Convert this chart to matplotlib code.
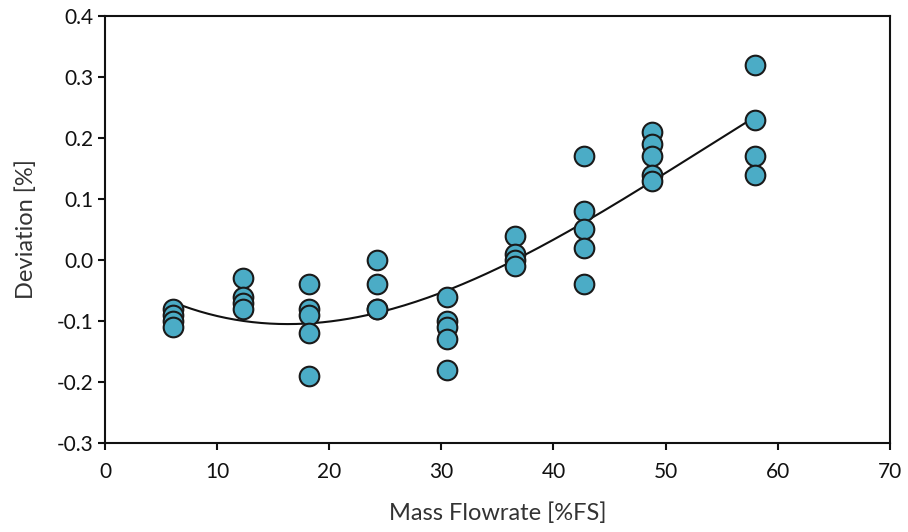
import matplotlib.pyplot as plt
import numpy as np

plt.rcParams['font.family'] = ['Lato', 'DejaVu Sans']

# measured deviations at each flowrate setpoint
flow = [6.1, 6.1, 6.1, 6.1,
        12.3, 12.3, 12.3, 12.3,
        18.2, 18.2, 18.2, 18.2, 18.2,
        24.3, 24.3, 24.3, 24.3,
        30.5, 30.5, 30.5, 30.5, 30.5,
        36.6, 36.6, 36.6, 36.6,
        42.7, 42.7, 42.7, 42.7, 42.7,
        48.8, 48.8, 48.8, 48.8, 48.8,
        58.0, 58.0, 58.0, 58.0]
deviation = [-0.08, -0.09, -0.10, -0.11,
             -0.03, -0.06, -0.07, -0.08,
             -0.04, -0.08, -0.09, -0.12, -0.19,
             0.00, -0.04, -0.08, -0.08,
             -0.06, -0.10, -0.11, -0.13, -0.18,
             0.04, 0.01, 0.00, -0.01,
             0.17, 0.08, 0.05, 0.02, -0.04,
             0.21, 0.19, 0.17, 0.14, 0.13,
             0.32, 0.23, 0.17, 0.14]

x_ticks = [0, 10, 20, 30, 40, 50, 60, 70]
y_ticks = [-0.3, -0.2, -0.1, 0.0, 0.1, 0.2, 0.3, 0.4]

# polynomial trendline through the measurements
coef = np.polyfit(flow, deviation, 3)
xf = np.linspace(min(flow), max(flow), 200)
yf = np.polyval(coef, xf)

fig = plt.figure(figsize=(9.08, 5.32), dpi=100)
ax = fig.add_axes([0.1156, 0.1673, 0.8644, 0.8027])

ax.plot(xf, yf, color='#111111', linewidth=1.5, zorder=2)
ax.scatter(flow, deviation, s=200, facecolor='#4BACC6', edgecolor='#1a1a1a',
           linewidth=1.5, zorder=3)

ax.set_xlim(0, 70)
ax.set_ylim(-0.3, 0.4)
ax.set_xticks(x_ticks)
ax.set_yticks(y_ticks)
ax.set_yticklabels([f'{v:.1f}' for v in y_ticks])
ax.tick_params(direction='out', length=5, width=1.5, labelsize=15, colors='#111111')
ax.tick_params(axis='x', pad=9)
for sp in ax.spines.values():
    sp.set_linewidth(1.5)
    sp.set_color('#111111')

ax.set_xlabel('Mass Flowrate [%FS]', fontsize=17, color='#333333', labelpad=14)
ax.set_ylabel('Deviation [%]', fontsize=17, color='#333333', labelpad=14)

plt.savefig('out.png', dpi=100, facecolor='white')
